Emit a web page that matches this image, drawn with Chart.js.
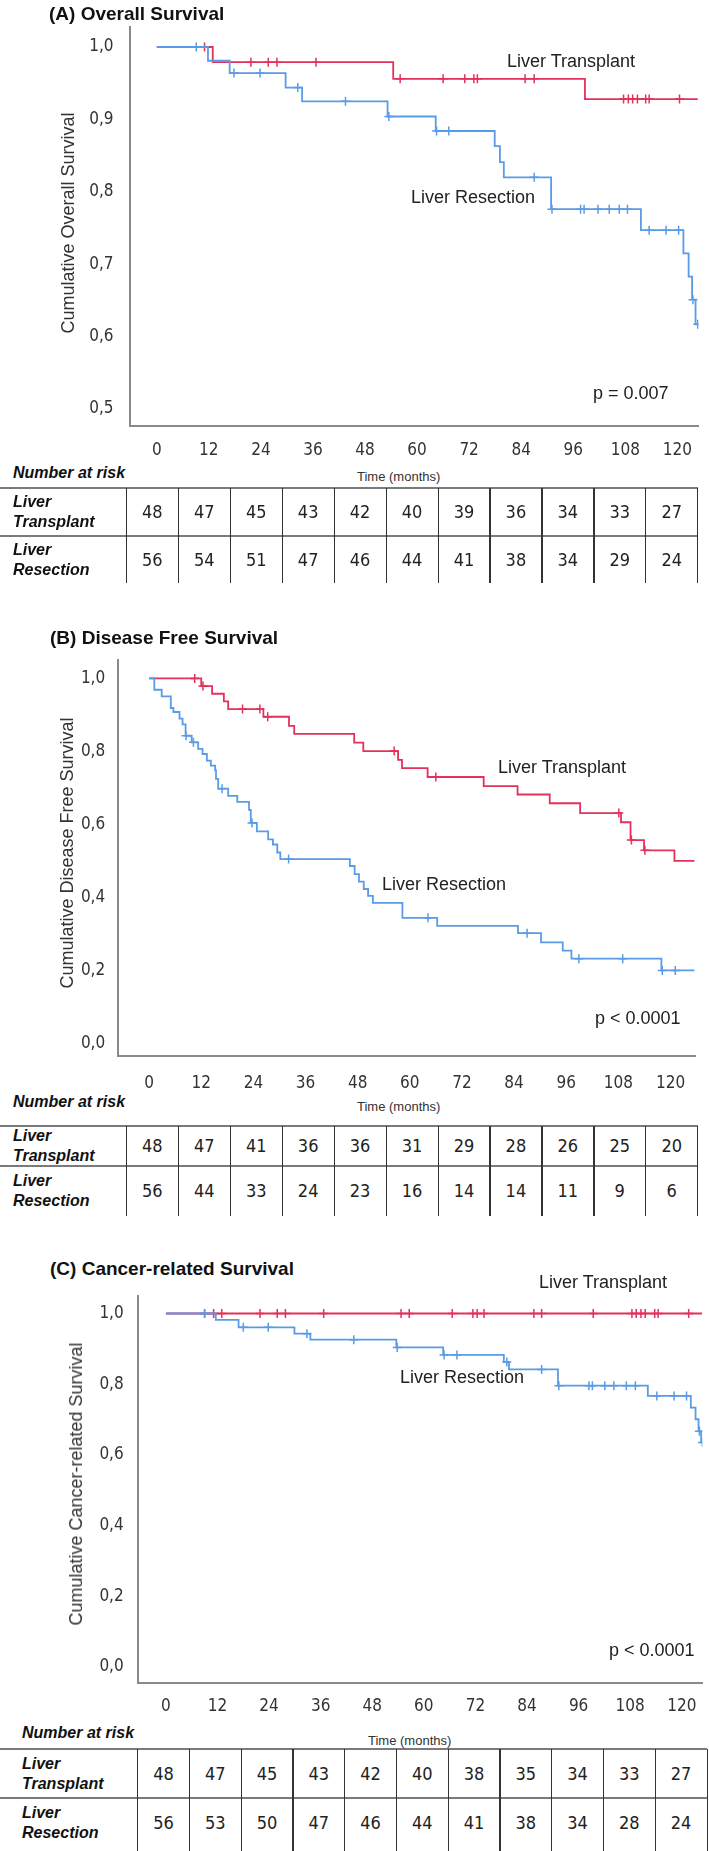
<!DOCTYPE html>
<html>
<head>
<meta charset="utf-8">
<script src="https://cdn.jsdelivr.net/npm/chart.js@4/dist/chart.umd.min.js"></script>
<style>
  body { margin: 0; background: #fff; }
  #page { position: relative; width: 709px; height: 1851px; overflow: hidden; font-family: 'Liberation Sans', Arial, sans-serif; color: #222; }
  canvas { position: absolute; left: 0; }
  .t { position: absolute; white-space: nowrap; line-height: 1; transform: translateY(-50%); }
  .title { font-weight: bold; font-size: 19px; color: #111; }
  .lab { font-size: 18px; color: #222; }
  .ytitle { position: absolute; white-space: nowrap; line-height: 1; font-size: 18px; color: #333; transform: translate(-50%, -50%) rotate(-90deg); }
  .nar { font-weight: bold; font-style: italic; font-size: 16px; color: #111; }
  .time { font-size: 13px; color: #333; }
  .cell { position: absolute; text-align: center; transform: translateY(-50%); font-family: 'Liberation Sans Narrow', 'Arial Narrow', 'DejaVu Sans Condensed', 'Liberation Sans', Arial, sans-serif; font-size: 18px; color: #222; line-height: 1; }
  .rowlab { position: absolute; font-weight: bold; font-style: italic; font-size: 16px; line-height: 20px; color: #111; transform: translateY(-50%); }
  .ln { position: absolute; }
</style>
</head>
<body>
<div id="page">
  <canvas id="cA" width="709" height="460" style="top:0px"></canvas>
  <canvas id="cB" width="709" height="445" style="top:645px"></canvas>
  <canvas id="cC" width="709" height="440" style="top:1280px"></canvas>

  <div class="t title" style="left:49px;top:13px">(A) Overall Survival</div>
  <div class="ytitle" style="left:68px;top:223px">Cumulative Overall Survival</div>
  <div class="t lab" style="left:507px;top:61px">Liver Transplant</div>
  <div class="t lab" style="left:411px;top:197px">Liver Resection</div>
  <div class="t lab" style="left:593px;top:393px">p = 0.007</div>
  <div class="t nar" style="left:13px;top:473px">Number at risk</div>
  <div class="t time" style="left:357px;top:476px">Time (months)</div>

  <div class="t title" style="left:50px;top:637px">(B) Disease Free Survival</div>
  <div class="ytitle" style="left:67px;top:853px">Cumulative Disease Free Survival</div>
  <div class="t lab" style="left:498px;top:767px">Liver Transplant</div>
  <div class="t lab" style="left:382px;top:884px">Liver Resection</div>
  <div class="t lab" style="left:595px;top:1018px">p &lt; 0.0001</div>
  <div class="t nar" style="left:13px;top:1102px">Number at risk</div>
  <div class="t time" style="left:357px;top:1106px">Time (months)</div>

  <div class="t title" style="left:50px;top:1268px">(C) Cancer-related Survival</div>
  <div class="ytitle" style="left:76px;top:1484px">Cumulative Cancer-related Survival</div>
  <div class="t lab" style="left:539px;top:1282px">Liver Transplant</div>
  <div class="t lab" style="left:400px;top:1377px">Liver Resection</div>
  <div class="t lab" style="left:609px;top:1650px">p &lt; 0.0001</div>
  <div class="t nar" style="left:22px;top:1733px">Number at risk</div>
  <div class="t time" style="left:368px;top:1740px">Time (months)</div>
</div>

<script>
  const RED = '#e2315b';
  const BLUE = '#5a9be6';
  const TICKFONT = "'Liberation Sans Narrow', 'Arial Narrow', 'DejaVu Sans Condensed', 'Liberation Sans', Arial, sans-serif";

  const xTicks = [0, 12, 24, 36, 48, 60, 72, 84, 96, 108, 120];
  const yTicksA = [0.5, 0.6, 0.7, 0.8, 0.9, 1.0];
  const yTicksBC = [0, 0.2, 0.4, 0.6, 0.8, 1.0];
  const groupNames = ['Liver Transplant', 'Liver Resection'];

  // (A) Overall Survival
  const osTxTime = [0, 12.9, 54.5, 98.7];
  const osTxSurv = [1, 0.979, 0.956, 0.928];
  const osTxCens = [11.0, 21.7, 25.7, 27.7, 36.7, 56.1, 66.0, 71.0, 73.1, 73.9, 84.9, 87.0, 107.6, 108.7, 109.7, 110.8, 112.7, 113.5, 120.5];
  const osTxEnd = 124.7;
  const osRxTime = [0, 11.8, 16.8, 29.7, 33.5, 53.2, 64.3, 77.9, 79.1, 80.0, 90.9, 111.6, 121.4, 122.6, 123.4, 124.2];
  const osRxSurv = [1, 0.981, 0.964, 0.944, 0.925, 0.904, 0.884, 0.863, 0.841, 0.820, 0.776, 0.747, 0.715, 0.683, 0.651, 0.617];
  const osRxCens = [9.1, 17.8, 23.8, 32.5, 43.5, 53.5, 64.5, 67.3, 87.0, 91.1, 97.7, 98.5, 101.7, 104.3, 106.6, 108.5, 113.5, 117.4, 120.3, 123.6, 124.7];
  const osRxEnd = 124.8;
  const osRiskTx = [48, 47, 45, 43, 42, 40, 39, 36, 34, 33, 27];
  const osRiskRx = [56, 54, 51, 47, 46, 44, 41, 38, 34, 29, 24];

  // (B) Disease Free Survival
  const dfsTxTime = [0, 12.0, 14.5, 17.2, 18.2, 26.3, 32.2, 33.4, 47.2, 49.3, 57.3, 58.2, 64.1, 77.0, 84.8, 92.2, 99.2, 108.6, 110.8, 113.9, 120.9];
  const dfsTxSurv = [1, 0.979, 0.958, 0.937, 0.916, 0.895, 0.870, 0.848, 0.824, 0.801, 0.777, 0.754, 0.730, 0.705, 0.682, 0.658, 0.631, 0.606, 0.557, 0.529, 0.500];
  const dfsTxCens = [10.5, 12.4, 21.5, 25.5, 27.3, 56.4, 66.0, 108.1, 111.0, 114.1];
  const dfsTxEnd = 125.5;
  const dfsRxTime = [0, 1.2, 2.9, 5.0, 5.6, 7.0, 7.7, 8.4, 9.8, 11.3, 12.3, 13.3, 14.2, 15.2, 15.4, 15.9, 18.2, 20.3, 23.0, 23.4, 24.8, 27.4, 28.5, 29.5, 30.2, 46.2, 47.3, 48.3, 49.4, 50.4, 51.5, 58.3, 66.3, 84.9, 90.2, 95.2, 97.2, 117.9];
  const dfsRxSurv = [1, 0.969, 0.951, 0.919, 0.908, 0.890, 0.874, 0.843, 0.825, 0.807, 0.793, 0.775, 0.761, 0.748, 0.725, 0.698, 0.678, 0.662, 0.640, 0.604, 0.581, 0.559, 0.545, 0.523, 0.505, 0.486, 0.464, 0.443, 0.423, 0.404, 0.385, 0.344, 0.322, 0.302, 0.277, 0.254, 0.232, 0.200];
  const dfsRxCens = [8.5, 10.2, 16.8, 23.7, 32.1, 64.2, 87.0, 98.9, 109.0, 118.1, 121.1];
  const dfsRxEnd = 125.5;
  const dfsRiskTx = [48, 47, 41, 36, 36, 31, 29, 28, 26, 25, 20];
  const dfsRiskRx = [56, 44, 33, 24, 23, 16, 14, 14, 11, 9, 6];

  // (C) Cancer-related Survival
  const crsTxTime = [0];
  const crsTxSurv = [1];
  const crsTxCens = [9.0, 11.1, 13.0, 21.9, 25.9, 27.8, 36.7, 54.7, 56.6, 66.6, 71.4, 72.4, 74.0, 85.6, 87.4, 99.4, 108.4, 109.4, 110.5, 111.5, 113.7, 114.5, 121.6];
  const crsTxEnd = 124.8;
  const crsRxTime = [0, 11.6, 16.9, 29.9, 33.6, 53.6, 64.5, 78.6, 79.8, 91.2, 112.1, 122.1, 123.2, 123.9, 124.5];
  const crsRxSurv = [1, 0.982, 0.961, 0.943, 0.926, 0.904, 0.883, 0.863, 0.842, 0.796, 0.767, 0.734, 0.701, 0.667, 0.635];
  const crsRxCens = [9.0, 18.0, 23.8, 32.8, 43.7, 53.8, 64.7, 67.7, 79.3, 87.4, 91.4, 98.4, 99.2, 102.1, 104.2, 107.1, 109.2, 114.2, 118.2, 121.1, 124.1, 124.8];
  const crsRxEnd = 124.8;
  const crsRiskTx = [48, 47, 45, 43, 42, 40, 38, 35, 34, 33, 27];
  const crsRiskRx = [56, 53, 50, 47, 46, 44, 41, 38, 34, 28, 24];

  function survAt(times, surv, t) {
    let s = surv[0];
    for (let i = 0; i < times.length; i++) if (times[i] <= t) s = surv[i];
    return s;
  }

  function groupSets(name, times, surv, cens, end, color) {
    const line = times.map((t, i) => ({ x: t, y: surv[i] }));
    line.push({ x: end, y: surv[surv.length - 1] });
    const marks = cens.map(t => ({ x: t, y: survAt(times, surv, t) }));
    return [
      { label: name, data: line, borderColor: color, borderWidth: 1.8, stepped: 'before', pointRadius: 0, fill: false },
      { label: name + ' censored', data: marks, showLine: false, borderColor: color, borderWidth: 1.5, pointStyle: 'cross', pointRadius: 4.5 }
    ];
  }

  function kmChart(id, c, datasets) {
    const canvas = document.getElementById(id);
    const H = canvas.height;
    return new Chart(canvas.getContext('2d'), {
      type: 'line',
      data: { datasets },
      options: {
        responsive: false,
        animation: false,
        devicePixelRatio: 1,
        layout: { padding: { left: 0, top: c.plotTop, right: 709 - c.right, bottom: 0 } },
        plugins: { legend: { display: false }, tooltip: { enabled: false } },
        scales: {
          x: {
            type: 'linear', min: c.xMin, max: c.xMax,
            grid: { display: false },
            border: { display: true, color: '#8a8a8a', width: 2 },
            afterBuildTicks: s => { s.ticks = xTicks.map(v => ({ value: v })); },
            afterFit: s => { s.height = H - c.plotBottom; },
            ticks: { autoSkip: false, maxRotation: 0, padding: c.padX, color: '#333', font: { family: TICKFONT, size: 17 } }
          },
          y: {
            type: 'linear', min: c.yMin, max: c.yMax,
            grid: { display: false },
            border: { display: true, color: '#8a8a8a', width: 2 },
            afterBuildTicks: s => { s.ticks = c.yTicks.map(v => ({ value: v })); },
            afterFit: s => { s.width = c.left; },
            ticks: { autoSkip: false, padding: c.padY, color: '#333', font: { family: TICKFONT, size: 17 },
                     callback: v => v.toFixed(1).replace('.', ',') }
          }
        }
      }
    });
  }

  kmChart('cA', { plotTop: 27, plotBottom: 425.7, left: 129.5, right: 698.6, xMin: -6.29, xMax: 124.9, yMin: 0.477, yMax: 1.0276, yTicks: yTicksA, padX: 7, padY: 8 },
    [...groupSets(groupNames[1], osRxTime, osRxSurv, osRxCens, osRxEnd, BLUE),
     ...groupSets(groupNames[0], osTxTime, osTxSurv, osTxCens, osTxEnd, RED)]);

  kmChart('cB', { plotTop: 10, plotBottom: 411, left: 118.2, right: 695.5, xMin: -7.11, xMax: 125.75, yMin: -0.0346, yMax: 1.05, yTicks: yTicksBC, padX: 9, padY: 5 },
    [...groupSets(groupNames[1], dfsRxTime, dfsRxSurv, dfsRxCens, dfsRxEnd, BLUE),
     ...groupSets(groupNames[0], dfsTxTime, dfsTxSurv, dfsTxCens, dfsTxEnd, RED)]);

  kmChart('cC', { plotTop: 6.7, plotBottom: 402.7, left: 137.7, right: 702.3, xMin: -6.56, xMax: 124.77, yMin: -0.0442, yMax: 1.049, yTicks: yTicksBC, padX: 6, padY: 6 },
    [...groupSets(groupNames[1], crsRxTime, crsRxSurv, crsRxCens, crsRxEnd, BLUE),
     ...groupSets(groupNames[0], crsTxTime, crsTxSurv, crsTxCens, crsTxEnd, RED)]);

  // number-at-risk tables
  function addEl(cls, style, text) {
    const d = document.createElement('div');
    d.className = cls;
    Object.assign(d.style, style);
    if (text !== undefined) d.innerHTML = text;
    document.getElementById('page').appendChild(d);
    return d;
  }

  function riskTable(t, txVals, rxVals) {
    const n = txVals.length;
    const w = (t.right - t.labelW) / n;
    [t.top, t.mid].forEach(y => addEl('ln', { left: '0px', top: (y - 1) + 'px', width: t.right + 'px', height: '2px', background: '#7a7a7a' }));
    for (let i = 0; i <= n; i++) {
      const x = t.labelW + i * w;
      addEl('ln', { left: (x - 0.5) + 'px', top: t.top + 'px', width: '1.2px', height: (t.bottom - t.top) + 'px', background: '#333' });
    }
    addEl('rowlab', { left: t.labX + 'px', top: t.row1 + 'px' }, 'Liver<br>Transplant');
    addEl('rowlab', { left: t.labX + 'px', top: t.row2 + 'px' }, 'Liver<br>Resection');
    for (let i = 0; i < n; i++) {
      const x = t.labelW + i * w;
      addEl('cell', { left: x + 'px', width: w + 'px', top: t.row1 + 'px' }, String(txVals[i]));
      addEl('cell', { left: x + 'px', width: w + 'px', top: t.row2 + 'px' }, String(rxVals[i]));
    }
  }

  riskTable({ top: 488, mid: 536, bottom: 583, labelW: 126.4, right: 697.7, labX: 13, row1: 512, row2: 560 }, osRiskTx, osRiskRx);
  riskTable({ top: 1126, mid: 1166, bottom: 1216, labelW: 126.4, right: 697.7, labX: 13, row1: 1146, row2: 1191 }, dfsRiskTx, dfsRiskRx);
  riskTable({ top: 1749, mid: 1798, bottom: 1851, labelW: 137.7, right: 707, labX: 22, row1: 1774, row2: 1823 }, crsRiskTx, crsRiskRx);
</script>
</body>
</html>
